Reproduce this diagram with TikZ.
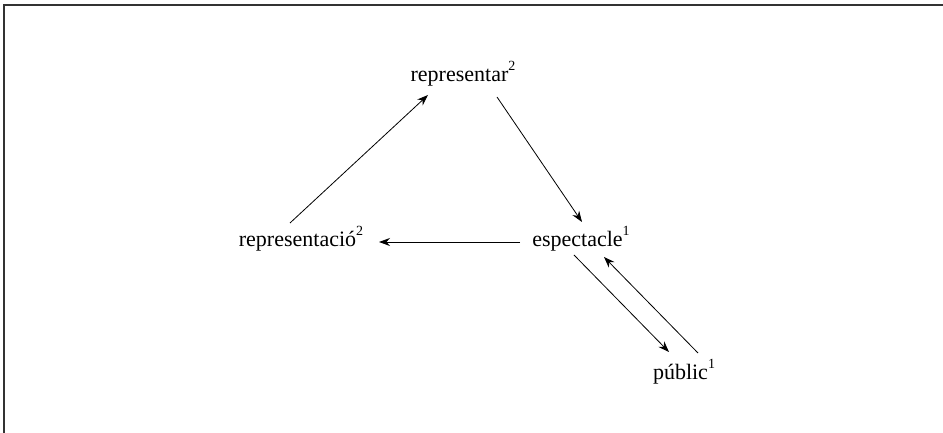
\documentclass[tikz,border=0pt]{standalone}
\usepackage{fontspec}
\setmainfont{Liberation Serif}
\usetikzlibrary{arrows.meta}
\newcommand{\sensenum}[1]{\raisebox{0.5em}{\fontsize{14}{14}\selectfont #1}}

\begin{document}
\begin{tikzpicture}[x=1pt,y=1pt,font=\fontsize{22}{26}\selectfont,
    every node/.style={anchor=base,inner sep=0pt}]
  \useasboundingbox (0,0) rectangle (943,433);
  \draw[line width=1.4pt,black!80] (4,0) -- (4,428) -- (943,428);
  \node (repar)  at (463,351) {representar\sensenum{2}};
  \node (repcio) at (301,186) {representació\sensenum{2}};
  \node (espec)  at (581,186) {espectacle\sensenum{1}};
  \node (public) at (684,53)  {públic\sensenum{1}};
  \path[-{Stealth[length=11pt,width=8pt]},line width=0.8pt]
    ([shift={(-11,24)}]repcio.base) edge ([shift={(-35,-13)}]repar.base)
    ([shift={(34,-15)}]repar.base) edge ([shift={(1,25)}]espec.base)
    ([shift={(-61,5)}]espec.base) edge ([shift={(78,5)}]repcio.base)
    ([shift={(-7,-8)}]espec.base) edge ([shift={(-15,28)}]public.base)
    ([shift={(14,27)}]public.base) edge ([shift={(23,-10)}]espec.base);
\end{tikzpicture}
\end{document}
